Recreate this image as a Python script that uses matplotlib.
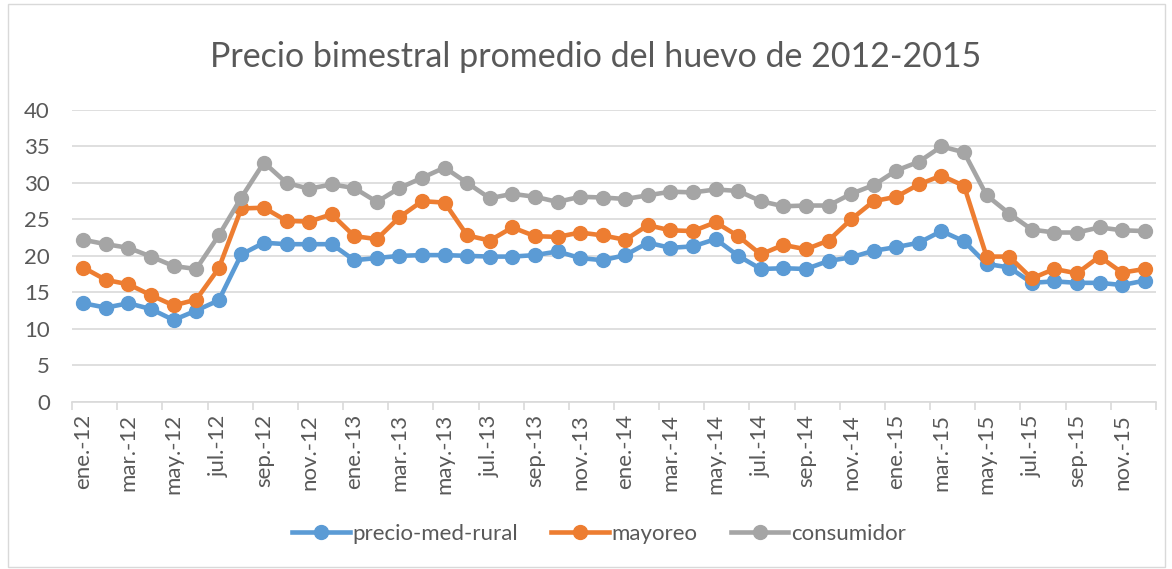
import matplotlib.pyplot as plt
from matplotlib.lines import Line2D
from matplotlib.patches import Rectangle

plt.rcParams['font.family'] = ['Lato', 'DejaVu Sans']

# monthly labels ene-2012 .. dic-2015
months = ['ene.', 'feb.', 'mar.', 'abr.', 'may.', 'jun.',
          'jul.', 'ago.', 'sep.', 'oct.', 'nov.', 'dic.']
years = ['12', '13', '14', '15']
labels = [m + '-' + y for y in years for m in months]

precio_med_rural = [13.5, 12.9, 13.5, 12.7, 11.2, 12.5, 13.9, 20.2, 21.8, 21.6, 21.6, 21.6,
                    19.4, 19.7, 20.0, 20.1, 20.1, 20.0, 19.9, 19.9, 20.1, 20.6, 19.7, 19.4,
                    20.1, 21.8, 21.1, 21.3, 22.3, 20.0, 18.2, 18.3, 18.2, 19.3, 19.8, 20.7,
                    21.2, 21.8, 23.4, 22.0, 18.9, 18.4, 16.3, 16.5, 16.3, 16.3, 16.0, 16.6]
mayoreo = [18.4, 16.7, 16.1, 14.6, 13.2, 14.0, 18.3, 26.5, 26.6, 24.8, 24.7, 25.7,
           22.7, 22.3, 25.3, 27.5, 27.3, 22.8, 22.1, 23.9, 22.7, 22.6, 23.2, 22.8,
           22.2, 24.2, 23.5, 23.4, 24.6, 22.7, 20.2, 21.5, 20.9, 22.1, 25.0, 27.5,
           28.1, 29.8, 31.0, 29.6, 19.9, 19.9, 16.9, 18.2, 17.6, 19.9, 17.7, 18.2]
consumidor = [22.2, 21.6, 21.1, 19.9, 18.6, 18.2, 22.8, 28.0, 32.8, 30.0, 29.2, 29.8,
              29.3, 27.4, 29.3, 30.7, 32.1, 30.0, 27.9, 28.5, 28.1, 27.4, 28.1, 28.0,
              27.8, 28.3, 28.8, 28.7, 29.1, 28.9, 27.5, 26.8, 26.9, 26.9, 28.5, 29.7,
              31.7, 32.9, 35.0, 34.2, 28.3, 25.8, 23.6, 23.2, 23.2, 23.9, 23.5, 23.4]

series = [('precio-med-rural', precio_med_rural, '#5B9BD5'),
          ('mayoreo', mayoreo, '#ED7D31'),
          ('consumidor', consumidor, '#A5A5A5')]

text_color = '#595959'
grid_color = '#D9D9D9'

fig = plt.figure(figsize=(11.72, 5.69), dpi=100)
ax = fig.add_axes([72 / 1172, 1 - 401.7 / 569, (1156 - 72) / 1172, (401.7 - 110) / 569])

x = list(range(len(labels)))
for name, vals, col in series:
    ax.plot(x, vals, color=col, lw=3.3, marker='o', ms=10, label=name,
            solid_capstyle='round', solid_joinstyle='round')

ax.set_xlim(-0.5, len(labels) - 0.5)
ax.set_ylim(0, 40)
ax.set_yticks(range(0, 41, 5))
ax.yaxis.grid(True, color=grid_color, lw=1.2)
ax.set_axisbelow(True)
ax.tick_params(axis='y', length=0, pad=16, labelsize=16, labelcolor=text_color)

ax.set_xticks(x[::2])
ax.set_xticklabels(labels[::2], rotation=90)
ax.set_xticks([i - 0.5 for i in range(0, len(labels) + 1, 2)], minor=True)
ax.tick_params(axis='x', which='major', length=0, pad=9, labelsize=16, labelcolor=text_color)
ax.tick_params(axis='x', which='minor', length=6, width=1.2, color=grid_color)

for s in ['top', 'right', 'left']:
    ax.spines[s].set_visible(False)
ax.spines['bottom'].set_color(grid_color)
ax.spines['bottom'].set_linewidth(1.2)

fig.text(0.508, 1 - 57 / 569, 'Precio bimestral promedio del huevo de 2012-2015',
         ha='center', va='center', fontsize=24.5, color=text_color)

handles = [Line2D([], [], color=col, lw=3.3, marker='o', ms=10) for _, _, col in series]
fig.legend(handles, [s[0] for s in series], loc='center', bbox_to_anchor=(599 / 1172, 1 - 534 / 569),
           ncol=3, frameon=False, fontsize=16, labelcolor=text_color,
           handlelength=2.6, handletextpad=0.1, columnspacing=1.5)

fig.patches.append(Rectangle((8 / 1172, 2 / 569), 1157 / 1172, 563 / 569, transform=fig.transFigure,
                             fill=False, edgecolor=grid_color, lw=1))

fig.savefig('out.png', dpi=100)
